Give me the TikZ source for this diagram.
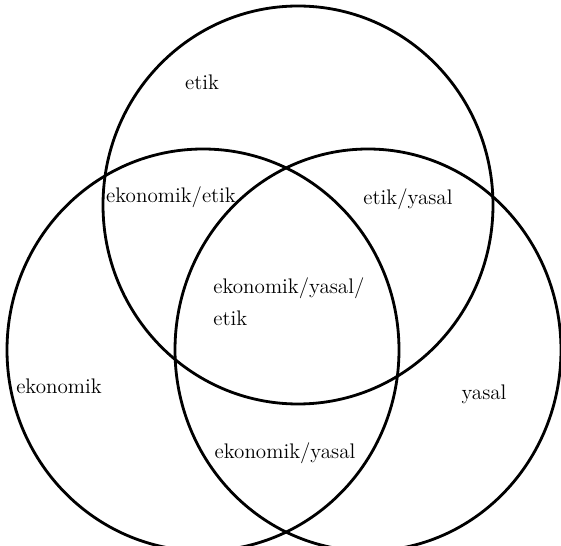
\documentclass[tikz,border=0pt]{standalone}
\usetikzlibrary{positioning}

\begin{document}
\begin{tikzpicture}[
  x=0.02cm, y=-0.02cm,
  set/.style={draw, line width=1.6pt},
  area/.style={font=\fontsize{12}{14}\selectfont, inner sep=0pt},
]
\useasboundingbox (0,0) rectangle (561,546);

% === Sets ===
\draw[set] (298,205) ellipse [x radius=195, y radius=199];
\draw[set] (203,350) ellipse [x radius=196, y radius=201];
\draw[set] (368,350) ellipse [x radius=193, y radius=201];

% === Regions ===
\node[area] (et) at (202,82) {etik};
\node[area] (ekon) at (59,386) {ekonomik};
\node[area] (yas) at (484,394) {yasal};
\node[area] (ekonet) at (171,197) {ekonomik/etik};
\node[area] (etyas) at (408,199) {etik/yasal};
\node[area] (ekonyas) at (285,453) {ekonomik/yasal};
\node[area, align=left, anchor=west, font=\fontsize{12}{18}\selectfont] (all) at (213,302) {ekonomik/yasal/\\etik};

\end{tikzpicture}
\end{document}
